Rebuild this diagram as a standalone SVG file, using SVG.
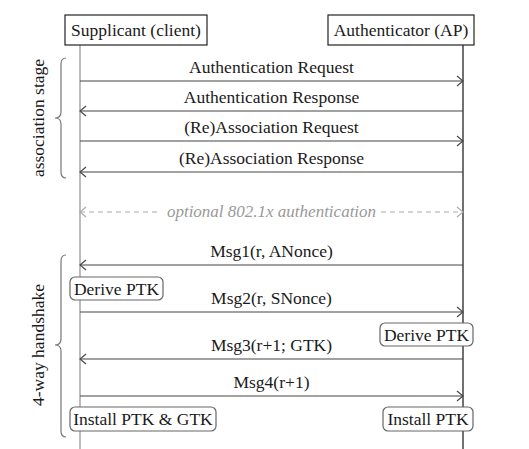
<svg xmlns="http://www.w3.org/2000/svg" width="529" height="449" viewBox="0 0 529 449">
<defs>
<style>
text{font-family:'Liberation Serif',serif}
.t{font-size:17.5px;fill:#1a1a1a;text-anchor:middle}
.it{font-size:17px;font-style:italic;fill:#999;text-anchor:middle}
.hdr{fill:#fff;stroke:#222;stroke-width:1.2}
.nb{fill:#fff;stroke:#666;stroke-width:1.2}
.msg{stroke:#444;stroke-width:1.2;fill:none}
.opt{stroke:#aaa;stroke-width:1.2;fill:none;stroke-dasharray:5 4}
.brace{stroke:#777;stroke-width:1.2;fill:none}
</style>
<marker id="ah" markerUnits="userSpaceOnUse" markerWidth="14" markerHeight="14" viewBox="-8 -7 10 14" refX="0" refY="0" orient="auto-start-reverse">
<path d="M-6,-5 L0,0 L-6,5" fill="none" stroke="#444" stroke-width="1.1"/>
</marker>
<marker id="ahg" markerUnits="userSpaceOnUse" markerWidth="14" markerHeight="14" viewBox="-8 -7 10 14" refX="0" refY="0" orient="auto-start-reverse">
<path d="M-6,-5 L0,0 L-6,5" fill="none" stroke="#aaa" stroke-width="1.1"/>
</marker>
</defs>
<rect width="529" height="449" fill="#fff"/>
<g id="lifelines">
<line x1="80" y1="45" x2="80" y2="449" stroke="#999" stroke-width="1.3"/>
<line x1="463" y1="45" x2="463" y2="449" stroke="#111" stroke-width="1.2"/>
</g>
<g id="supplicant">
<rect class="hdr" x="65" y="15" width="142" height="30"/>
<text class="t" x="136" y="36" font-family="'Liberation Serif', serif">Supplicant (client)</text>
</g>
<g id="authenticator">
<rect class="hdr" x="328" y="15" width="146" height="30"/>
<text class="t" x="401" y="36" font-family="'Liberation Serif', serif">Authenticator (AP)</text>
</g>
<g id="connectors">
<line class="msg" x1="80" y1="81" x2="463" y2="81" marker-end="url(#ah)"/>
<line class="msg" x1="463" y1="111" x2="80" y2="111" marker-end="url(#ah)"/>
<line class="msg" x1="80" y1="141" x2="463" y2="141" marker-end="url(#ah)"/>
<line class="msg" x1="463" y1="172" x2="80" y2="172" marker-end="url(#ah)"/>
<line class="opt" x1="80" y1="212" x2="160" y2="212" marker-start="url(#ahg)"/>
<line class="opt" x1="381" y1="212" x2="463" y2="212" marker-end="url(#ahg)"/>
<line class="msg" x1="463" y1="265" x2="80" y2="265" marker-end="url(#ah)"/>
<line class="msg" x1="80" y1="312" x2="463" y2="312" marker-end="url(#ah)"/>
<line class="msg" x1="463" y1="359" x2="80" y2="359" marker-end="url(#ah)"/>
<line class="msg" x1="80" y1="396" x2="463" y2="396" marker-end="url(#ah)"/>
</g>
<g id="labels" font-family="'Liberation Serif', serif">
<text class="t" x="271.5" y="72.5">Authentication Request</text>
<text class="t" x="271.5" y="102.5">Authentication Response</text>
<text class="t" x="271.5" y="132.5">(Re)Association Request</text>
<text class="t" x="271.5" y="163.5">(Re)Association Response</text>
<text class="it" x="271.5" y="217">optional 802.1x authentication</text>
<text class="t" x="271.5" y="256.5">Msg1(r, ANonce)</text>
<text class="t" x="271.5" y="303.5">Msg2(r, SNonce)</text>
<text class="t" x="271.5" y="350.5">Msg3(r+1; GTK)</text>
<text class="t" x="271.5" y="387.5">Msg4(r+1)</text>
</g>
<g id="derive-ptk-supplicant">
<rect class="nb" x="70" y="277" width="93" height="23" rx="5"/>
<text class="t" x="116.5" y="294.5">Derive PTK</text>
</g>
<g id="derive-ptk-authenticator">
<rect class="nb" x="380" y="323" width="93" height="23" rx="5"/>
<text class="t" x="426.5" y="340.5">Derive PTK</text>
</g>
<g id="install-ptk-gtk">
<rect class="nb" x="70" y="407" width="146" height="24" rx="5"/>
<text class="t" x="143" y="425">Install PTK &amp; GTK</text>
</g>
<g id="install-ptk">
<rect class="nb" x="383" y="407" width="90" height="24" rx="5"/>
<text class="t" x="428" y="425">Install PTK</text>
</g>
<g id="association-stage">
<path class="brace" d="M66,58 Q61,58 61,64 L61,112 Q61,118 55,118 Q61,118 61,124 L61,172 Q61,178 66,178"/>
<text class="t" transform="translate(44,118) rotate(-90)">association stage</text>
</g>
<g id="four-way-handshake">
<path class="brace" d="M66,255 Q61,255 61,261 L61,339 Q61,345 55,345 Q61,345 61,351 L61,431 Q61,437 66,437"/>
<text class="t" transform="translate(44,345) rotate(-90)">4-way handshake</text>
</g>
</svg>
